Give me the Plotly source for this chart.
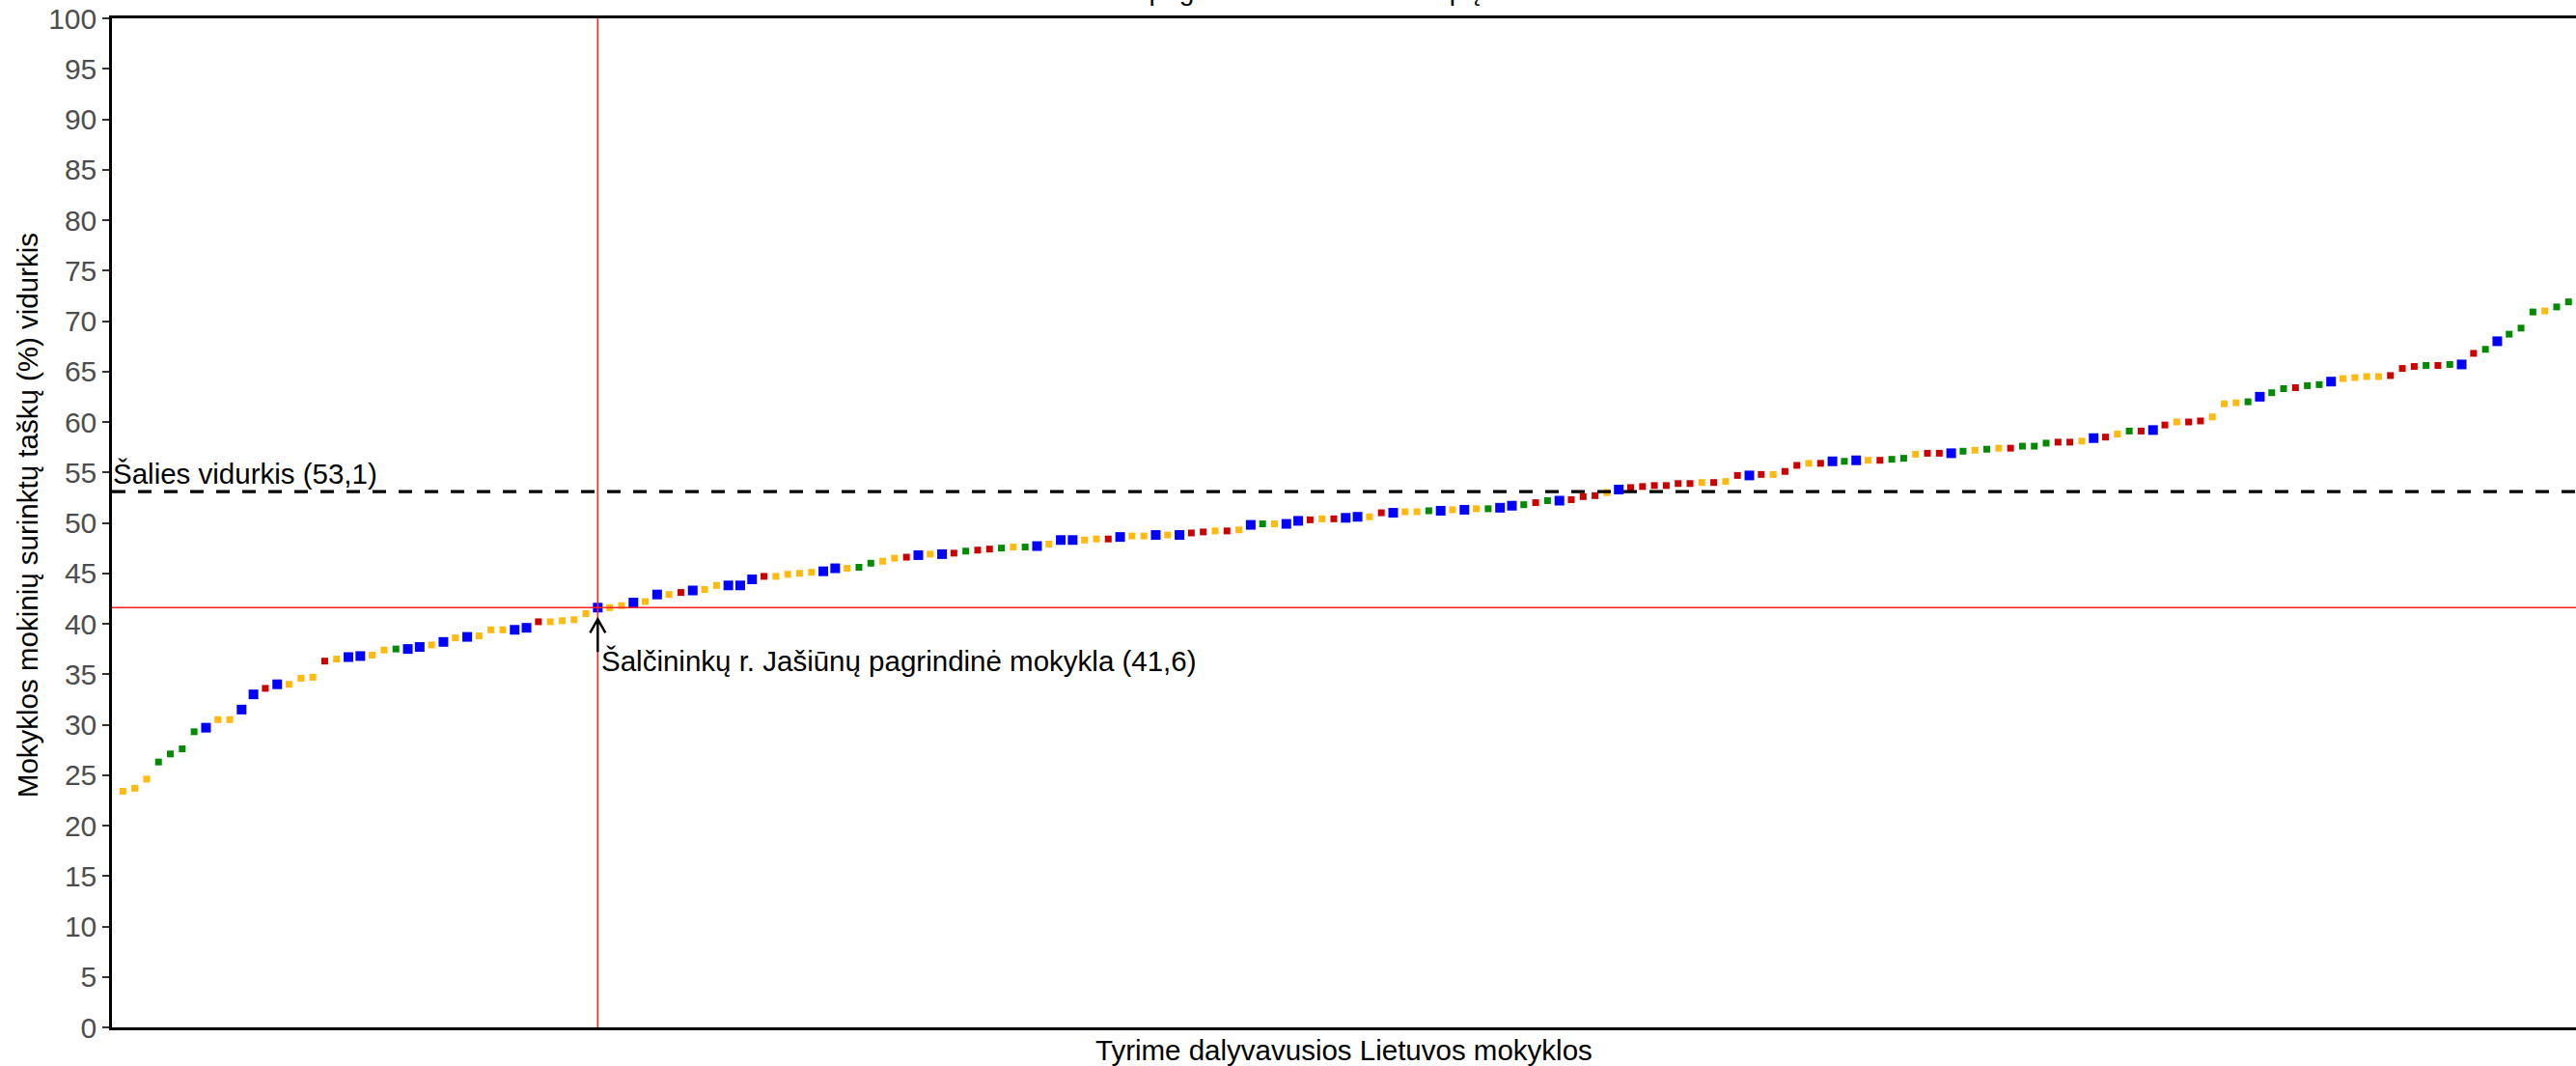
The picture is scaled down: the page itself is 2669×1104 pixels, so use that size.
import plotly.graph_objects as go

# ---- data ----
school_values = [
    23.4, 23.7, 24.6, 26.3, 27.1, 27.6, 29.3, 29.7, 30.5, 30.5,
    31.5, 33.0, 33.6, 34.0, 34.0, 34.6, 34.7, 36.3, 36.5, 36.7,
    36.8, 36.9, 37.4, 37.5, 37.5, 37.7, 37.9, 38.2, 38.6, 38.7,
    38.8, 39.4, 39.4, 39.4, 39.6, 40.2, 40.2, 40.3, 40.4, 41.0,
    41.6, 41.6, 41.8, 42.1, 42.2, 42.9, 42.9, 43.1, 43.3, 43.4,
    43.8, 43.8, 43.8, 44.4, 44.7, 44.7, 44.9, 45.0, 45.1, 45.2,
    45.5, 45.5, 45.6, 46.0, 46.2, 46.5, 46.6, 46.8, 46.9, 46.9,
    47.0, 47.2, 47.3, 47.4, 47.5, 47.6, 47.6, 47.7, 47.9, 48.3,
    48.3, 48.3, 48.4, 48.4, 48.6, 48.7, 48.7, 48.8, 48.8, 48.8,
    49.0, 49.1, 49.2, 49.2, 49.3, 49.8, 49.9, 49.9, 49.9, 50.2,
    50.3, 50.4, 50.4, 50.5, 50.6, 50.6, 51.0, 51.0, 51.1, 51.1,
    51.2, 51.2, 51.3, 51.3, 51.4, 51.4, 51.5, 51.7, 51.8, 52.0,
    52.2, 52.2, 52.3, 52.6, 52.7, 53.0, 53.3, 53.5, 53.6, 53.7,
    53.7, 53.9, 53.9, 54.0, 54.0, 54.1, 54.7, 54.7, 54.8, 54.8,
    55.1, 55.7, 55.9, 55.9, 56.1, 56.1, 56.2, 56.2, 56.2, 56.3,
    56.4, 56.8, 56.9, 56.9, 56.9, 57.1, 57.2, 57.3, 57.4, 57.4,
    57.6, 57.6, 57.9, 58.0, 58.0, 58.1, 58.4, 58.5, 58.8, 59.1,
    59.1, 59.2, 59.7, 60.0, 60.0, 60.1, 60.5, 61.8, 61.9, 62.0,
    62.5, 62.9, 63.3, 63.4, 63.6, 63.7, 64.0, 64.3, 64.4, 64.5,
    64.5, 64.6, 65.3, 65.5, 65.6, 65.6, 65.7, 65.7, 66.8, 67.2,
    68.0, 68.7, 69.3, 70.9, 71.0, 71.4, 71.9,
]

# group code of every school (O = orange, G = green, B = blue, R = red)
school_groups = list(
    "OOOGGGGBOO"
    "BBRBOOOROB"
    "BOOGBBOBOB"
    "OOOBBROOOO"
    "BOOBOBORBO"
    "OBBBROOOOB"
    "BOGGOORBOB"
    "RGRRGOGBOB"
    "BOORBOOBOB"
    "RROROBGOBB"
    "RORBBORBOO"
    "GBOBOGBBGR"
    "GBRRROBRRR"
    "RRRORORBRO"
    "RRORBGBORG"
    "GORRBGOGOR"
    "GGGRROBROG"
    "RBRORROOOG"
    "BGGRGGBOOO"
    "ORRRGRGBRG"
    "BGGGOGG"
)

group_colors = {"O": "#FFB90F", "R": "#CD0000", "G": "#008B00", "B": "#0000FF"}
group_sizes = {"O": 7, "R": 7, "G": 7, "B": 10}

national_average = 53.1
national_label = "Šalies vidurkis (53,1)"
highlight_rank = 41
highlight_value = 41.6
highlight_label = "Šalčininkų r. Jašiūnų pagrindinė mokykla (41,6)"

y_title = "Mokyklos mokinių surinktų taškų (%) vidurkis"
x_title = "Tyrime dalyvavusios Lietuvos mokyklos"
chart_title = "Matematika pagal šalies mokinius ir tipą"

ranks = list(range(1, len(school_values) + 1))

# ---- figure ----
W, H = 2669, 1104
ML, MR, MT, MB = 116, 0, 19, 40
FONT = "Liberation Sans, Arial, sans-serif"
TXT = 29.5

fig = go.Figure()
for g in ["O", "G", "R", "B"]:
    xs = [r for r, gg in zip(ranks, school_groups) if gg == g]
    ys = [v for v, gg in zip(school_values, school_groups) if gg == g]
    fig.add_trace(go.Scatter(
        x=xs, y=ys, mode="markers",
        marker=dict(symbol="square", size=group_sizes[g], color=group_colors[g],
                    line=dict(width=0)),
        showlegend=False, hoverinfo="x+y",
    ))

# reference lines
fig.add_hline(y=highlight_value, line=dict(color="#FF2020", width=1.6))
fig.add_vline(x=highlight_rank, line=dict(color="#FF2020", width=1.6))
fig.add_hline(y=national_average, line=dict(color="black", width=3.3, dash="14px,13px"))

# open arrow pointing to the highlighted school (pixel-sized path anchored to it)
fig.add_shape(type="path", xref="x", yref="y",
              xsizemode="pixel", ysizemode="pixel",
              xanchor=highlight_rank, yanchor=highlight_value,
              path="M 0,-12 L 0,-46 M -8,-26 L 0,-12 L 8,-26",
              line=dict(color="black", width=2.4), layer="above")

fig.add_annotation(x=highlight_rank, y=highlight_value, text=highlight_label,
                   showarrow=False, xanchor="left", yanchor="middle",
                   xshift=2, yshift=-55,
                   font=dict(family=FONT, size=TXT, color="black"))
fig.add_annotation(xref="paper", x=0, y=national_average, text=national_label,
                   showarrow=False, xanchor="left", yanchor="middle",
                   xshift=-1, yshift=19,
                   font=dict(family=FONT, size=TXT, color="black"))

# axis titles
fig.add_annotation(xref="paper", yref="paper", x=0.5, y=-0.024, yshift=2, borderpad=0,
                   text=x_title, showarrow=False, xanchor="center", yanchor="middle",
                   font=dict(family=FONT, size=TXT, color="black"))
fig.add_annotation(xref="paper", yref="paper", x=(28 - ML) / (W - ML - MR), y=0.507,
                   text=y_title, showarrow=False, textangle=-90,
                   xanchor="center", yanchor="middle",
                   font=dict(family=FONT, size=TXT, color="black"))
# title (mostly clipped above the picture, as in the reference)
fig.add_annotation(xref="paper", yref="paper", x=0.458, y=1, yshift=11,
                   text=chart_title, showarrow=False, xanchor="center", yanchor="bottom",
                   font=dict(family=FONT, size=28, color="black"))

fig.update_layout(
    width=W, height=H,
    margin=dict(l=ML, r=MR, t=MT, b=MB, pad=0),
    plot_bgcolor="white", paper_bgcolor="white",
    font=dict(family=FONT),
    showlegend=False,
)
fig.update_xaxes(range=[0.08, 207.63], showgrid=False, zeroline=False,
                 showticklabels=False, ticks="",
                 showline=True, linecolor="black", linewidth=2.5, mirror=True)
fig.update_yaxes(range=[0, 100], dtick=5, tick0=0, showgrid=False, zeroline=False,
                 ticks="outside", ticklen=7, tickwidth=2, tickcolor="#333333",
                 tickfont=dict(family=FONT, size=30, color="#4D4D4D"),
                 showline=True, linecolor="black", linewidth=2.5, mirror=False)

fig.write_html("out.html", config={"displayModeBar": False},
               post_script="document.body.style.margin='0';document.body.style.overflow='hidden';")
